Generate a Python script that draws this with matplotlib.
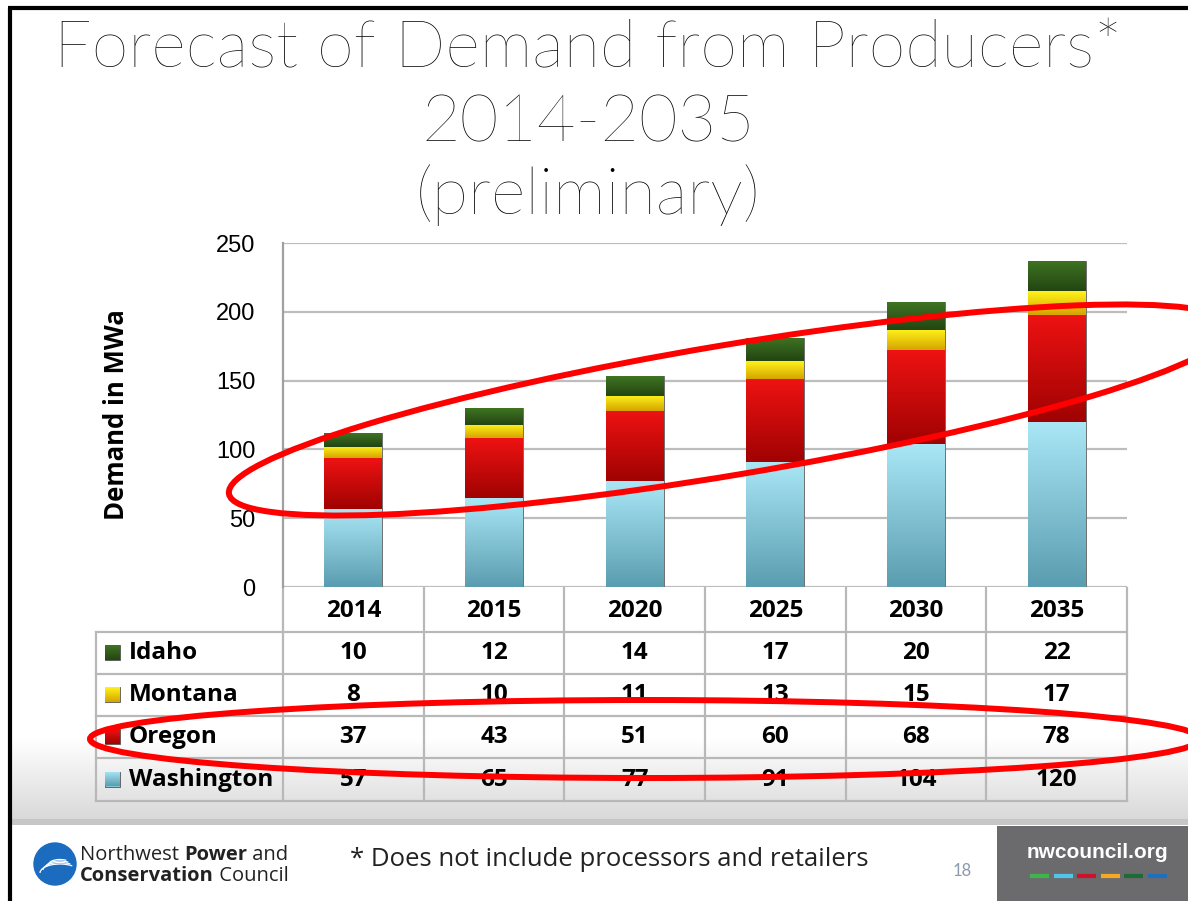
import matplotlib
matplotlib.use("Agg")
import matplotlib.pyplot as plt
from matplotlib.patches import Ellipse, Rectangle, Circle, Arc
from matplotlib.colors import to_rgb
import numpy as np

# data
years = ["2014", "2015", "2020", "2025", "2030", "2035"]
washington = [57, 65, 77, 91, 104, 120]
oregon = [37, 43, 51, 60, 68, 78]
montana = [8, 10, 11, 13, 15, 17]
idaho = [10, 12, 14, 17, 20, 22]
y_ticks = [0, 50, 100, 150, 200, 250]

# name, values, flat colour, gradient top, gradient bottom
series = [("Washington", washington, "#7ec8da", "#a9e7f6", "#5b9db0"),
          ("Oregon", oregon, "#cf0303", "#ee1212", "#a00202"),
          ("Montana", montana, "#f5cf00", "#fff31a", "#d6a400"),
          ("Idaho", idaho, "#2e5b18", "#3f7422", "#234512")]
table_order = ["Idaho", "Montana", "Oregon", "Washington"]

W, H = 1188, 901
fig = plt.figure(figsize=(W / 100, H / 100), dpi=100)
fig.patch.set_facecolor("white")


def box(left, top, right, bottom):
    return [left / W, 1 - bottom / H, (right - left) / W, (bottom - top) / H]


def ramp(c_top, c_bot, n=60):
    a, b = np.array(to_rgb(c_top)), np.array(to_rgb(c_bot))
    t = np.linspace(0, 1, n)[:, None]
    return (a * (1 - t) + b * t).reshape(n, 1, 3)


# background / decoration layer in pixel coords
bg = fig.add_axes([0, 0, 1, 1], zorder=0)
bg.axis("off")

grad = np.linspace(1.0, 0.85, 100)
grad_img = np.dstack([grad, grad, grad]).reshape(100, 1, 3)
bg.imshow(grad_img, extent=(12, W, 820, 738), origin="upper", aspect="auto", zorder=0)
bg.add_patch(Rectangle((12, 819), W, 6, color="#c6c6c6", lw=0, zorder=1))
bg.set_xlim(0, W)
bg.set_ylim(H, 0)

# slide frame
bg.plot([8, W], [8, 8], color="black", lw=3, solid_capstyle="butt")
bg.plot([10, 10], [8, H], color="black", lw=3, solid_capstyle="butt")

# title
title_font = dict(family=["Lato", "DejaVu Sans"], weight="light", color="black",
                  fontsize=48, ha="center", va="baseline")
bg.text(588, 68, "Forecast of Demand from Producers*", **title_font)
bg.text(588, 142, "2014-2035", **title_font)
bg.text(588, 214, "(preliminary)", **title_font)

# chart
plot_l, plot_t, plot_r, plot_b = 283, 243, 1127, 587
ax = fig.add_axes(box(plot_l, plot_t, plot_r, plot_b), zorder=2)
ax.patch.set_alpha(0)
x = np.arange(len(years))
bottom = np.zeros(len(years))
for name, vals, col, c_top, c_bot in series:
    bars = ax.bar(x, vals, width=0.41, bottom=bottom, color=col, edgecolor="#707070",
                  linewidth=0.7, zorder=3)
    for p in bars:
        bx, by, bw, bh = p.get_x(), p.get_y(), p.get_width(), p.get_height()
        im = ax.imshow(ramp(c_top, c_bot), extent=(bx, bx + bw, by, by + bh),
                       origin="upper", aspect="auto", zorder=3.5)
        im.set_clip_path(p)
    bottom += np.array(vals)
ax.set_xlim(-0.5, len(years) - 0.5)
ax.set_ylim(0, 250)
ax.set_yticks(y_ticks)
ax.set_yticklabels([str(v) for v in y_ticks], family=["Liberation Sans"], fontsize=17)
ax.set_xticks([])
ax.tick_params(axis="y", length=0, pad=20)
ax.yaxis.grid(True, color="#bdbdbd", lw=1.6, zorder=0)
for s in ["top", "right", "bottom"]:
    ax.spines[s].set_visible(False)
ax.spines["left"].set_color("#a0a0a0")
ax.spines["left"].set_linewidth(1.6)
ax.set_ylabel("Demand in MWa", family=["Open Sans", "Liberation Sans"], weight="bold",
              fontsize=18.5, labelpad=62)

# data table under the chart
col_w = (plot_r - plot_l) / len(years)
tab_l = 96
row_top = [588, 632, 674, 716, 758, 801]
line_kw = dict(color="#b8b8b8", lw=1.6, zorder=2)
for i in range(len(years) + 1):
    xx = plot_l + i * col_w
    bg.plot([xx, xx], [row_top[0], row_top[-1]], **line_kw)
bg.plot([tab_l, tab_l], [row_top[1], row_top[-1]], **line_kw)
for yy in row_top[1:]:
    bg.plot([tab_l, plot_r], [yy, yy], **line_kw)

tab_font = dict(family=["Open Sans", "Liberation Sans"], weight="bold", fontsize=17.5, color="black")
for i, yr in enumerate(years):
    bg.text(plot_l + (i + 0.5) * col_w, (row_top[0] + row_top[1]) / 2 + 1, yr,
            ha="center", va="center", **tab_font)

lookup = {s[0]: s for s in series}
for r, name in enumerate(table_order):
    _, vals, col, c_top, c_bot = lookup[name]
    yc = (row_top[r + 1] + row_top[r + 2]) / 2
    key = Rectangle((105, yc - 8), 15, 15, facecolor=col, edgecolor="#555555", lw=0.6, zorder=3)
    bg.add_patch(key)
    kim = bg.imshow(ramp(c_top, c_bot), extent=(105, 120, yc + 7, yc - 8), origin="upper",
                    aspect="auto", zorder=3.5)
    kim.set_clip_path(key)
    bg.text(129, yc, name, ha="left", va="center", **tab_font)
    for i, v in enumerate(vals):
        bg.text(plot_l + (i + 0.5) * col_w, yc, str(v), ha="center", va="center", **tab_font)
bg.set_xlim(0, W)
bg.set_ylim(H, 0)

# footer
bg.add_patch(Rectangle((997, 826), W - 997, H - 826, color="#6b6b6e", lw=0))
bg.text(1097, 853, "nwcouncil.org", ha="center", va="center", color="white",
        family=["Liberation Sans"], weight="bold", fontsize=15)
dash_cols = ["#3db54a", "#4fc6ea", "#d0112b", "#f7a823", "#1d6b35", "#1f6fc1"]
for k, c in enumerate(dash_cols):
    x0 = 1030 + k * 23.5
    bg.plot([x0, x0 + 19], [876, 876], color=c, lw=3, solid_capstyle="butt")
bg.text(962, 871, "18", ha="center", va="center", color="#8c9aae",
        family=["Lato", "DejaVu Sans"], fontsize=12)
bg.text(350, 860, "* Does not include processors and retailers", ha="left", va="center",
        color="#222222", family=["Open Sans", "DejaVu Sans"], fontsize=18.5)

# logo
bg.add_patch(Circle((55, 864), 21, color="#1b6cbf", zorder=3))
for k in range(4):
    bg.add_patch(Arc((60, 873 - k * 3), 40 - k * 6, 18 - k * 3, theta1=180, theta2=330,
                     color="white", lw=0.9, zorder=4))
logo_kw = dict(family=["Open Sans", "DejaVu Sans"], fontsize=14.5, color="#222222")
t1 = bg.text(80, 855, "Northwest ", va="center", ha="left", **logo_kw)
t2 = bg.annotate("Power", xy=(1, 0), xycoords=t1, va="bottom", ha="left", weight="bold", **logo_kw)
bg.annotate(" and", xy=(1, 0), xycoords=t2, va="bottom", ha="left", **logo_kw)
t3 = bg.text(80, 876, "Conservation", weight="bold", va="center", ha="left", **logo_kw)
bg.annotate(" Council", xy=(1, 0), xycoords=t3, va="bottom", ha="left", **logo_kw)

# red hand-drawn highlight ellipses
top = fig.add_axes([0, 0, 1, 1], zorder=10)
top.set_xlim(0, W)
top.set_ylim(H, 0)
top.axis("off")
top.patch.set_alpha(0)
top.add_patch(Ellipse((730, 410), 1016, 130, angle=-9.5, fill=False, edgecolor="#ff0000", lw=4.3))
top.add_patch(Ellipse((645, 739), 1110, 78, angle=0, fill=False, edgecolor="#ff0000", lw=4.3))

fig.savefig("out.png", dpi=100)
